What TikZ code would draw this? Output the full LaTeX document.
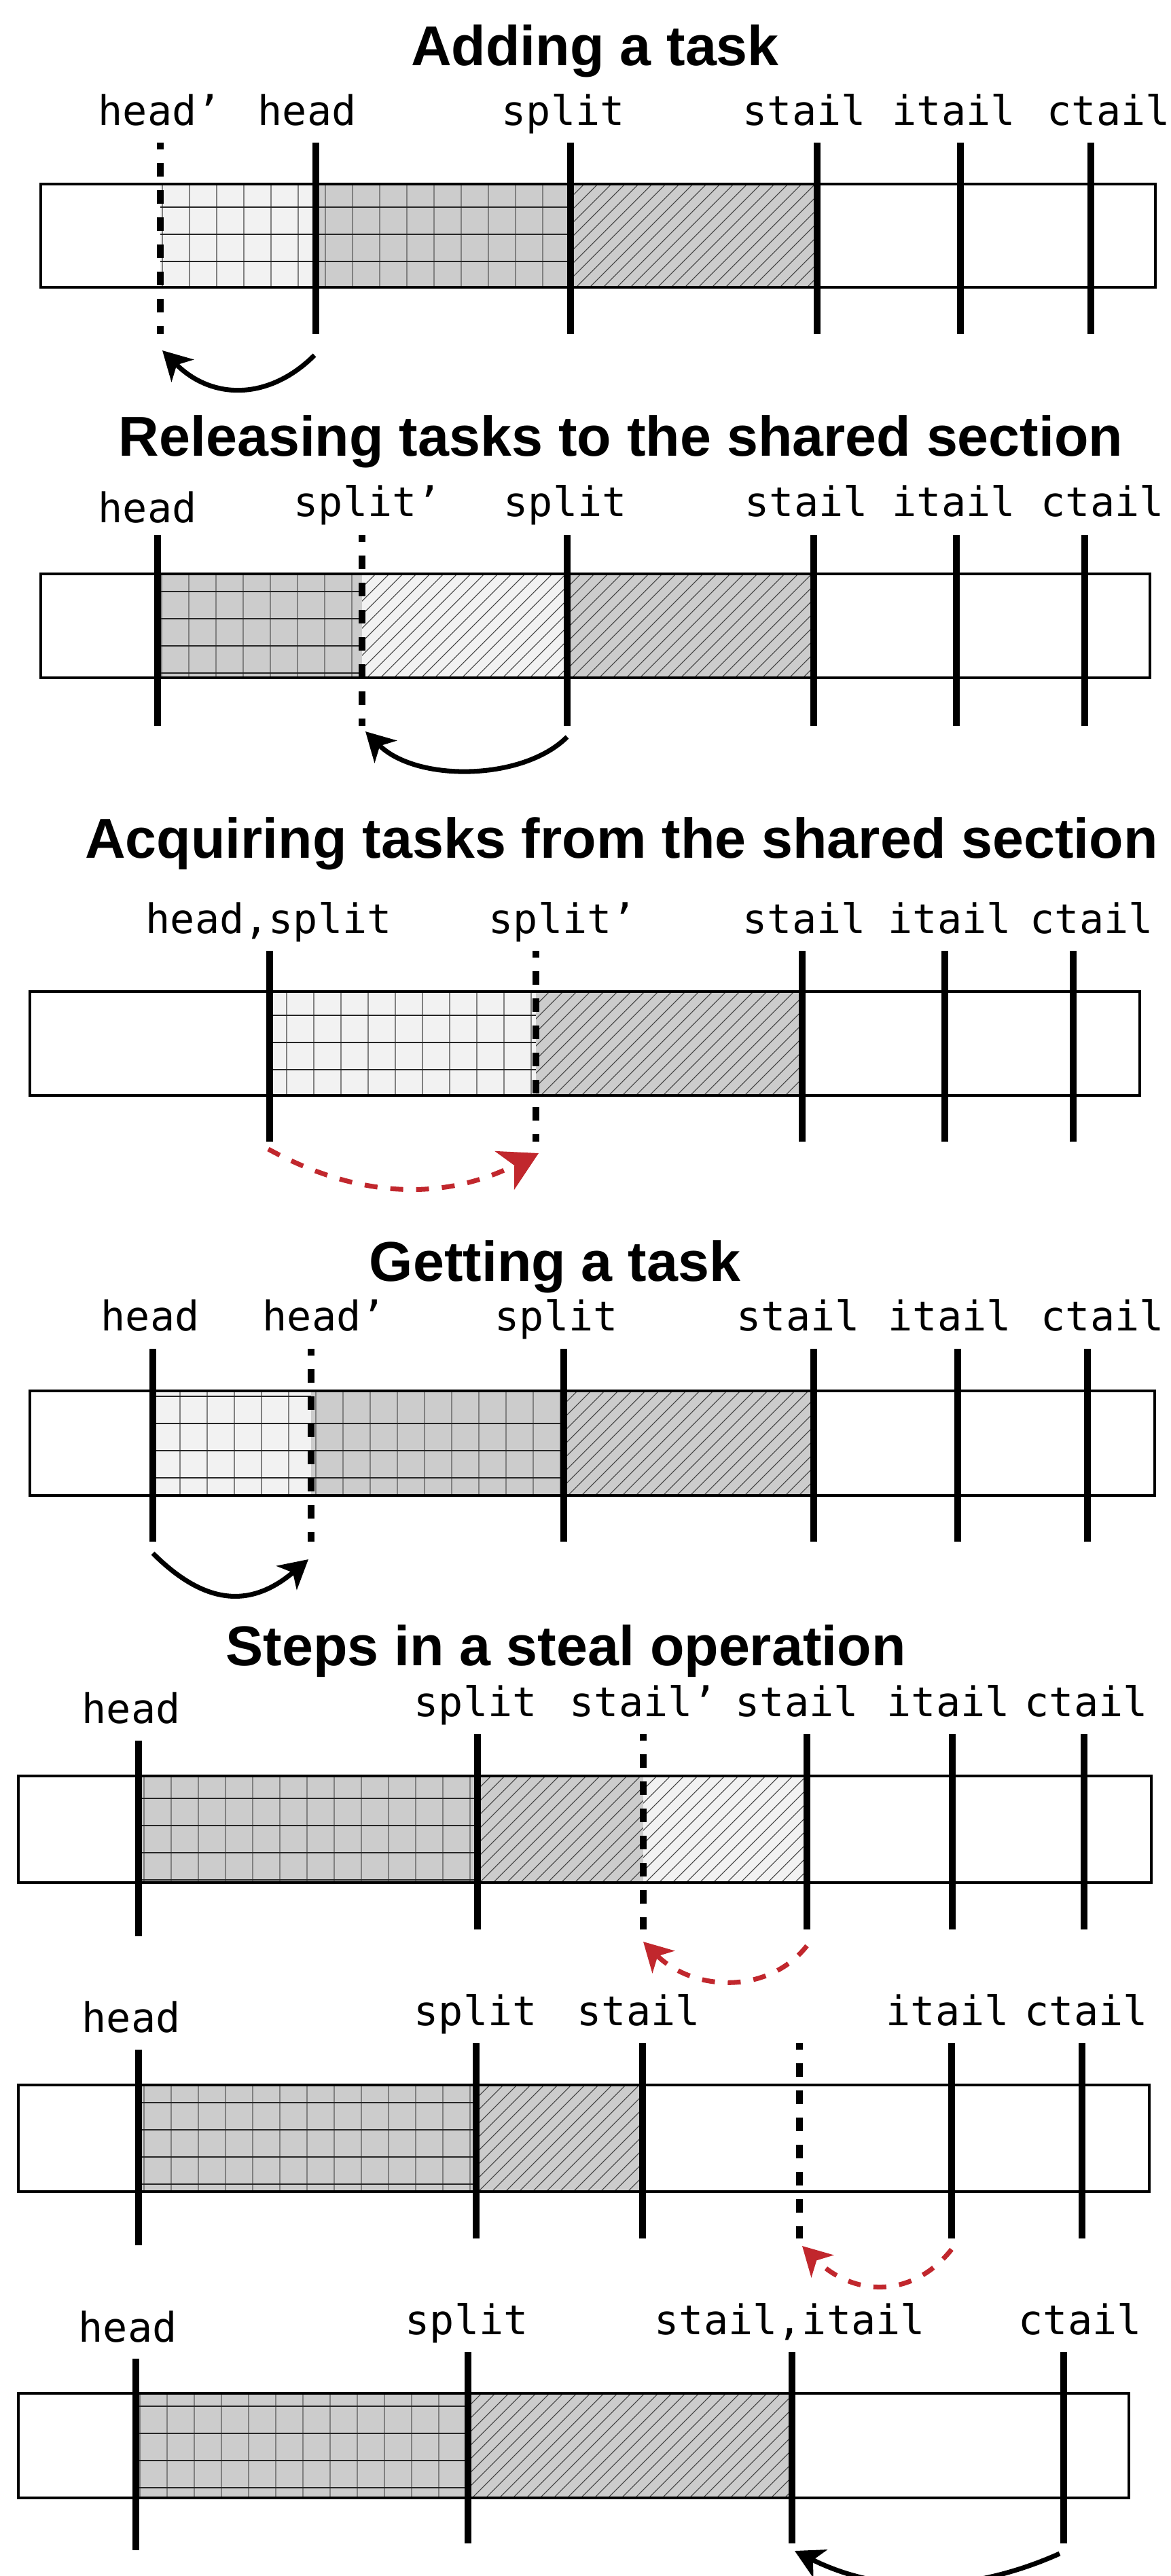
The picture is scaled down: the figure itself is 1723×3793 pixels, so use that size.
\documentclass[tikz,border=0pt]{standalone}
\usepackage{fontspec}
\setmainfont{Liberation Sans}
\newfontfamily\labelfont{DejaVu Sans Mono}
\usetikzlibrary{arrows.meta}

\definecolor{lightfill}{HTML}{F2F2F2}
\definecolor{darkfill}{HTML}{CCCCCC}
\definecolor{arrowred}{HTML}{C1272D}

\tikzset{
  title/.style={font=\fontsize{23.5}{28}\selectfont\bfseries, inner sep=0pt, anchor=base},
  lbl/.style={font=\labelfont\fontsize{17.1}{20}\selectfont, inner sep=0pt, anchor=base west},
  posline/.style={line width=2.8pt},
  newpos/.style={line width=2.8pt, dash pattern=on 0.2cm off 0.2cm, dash phase=0.1cm},
  boxline/.style={line width=0.9pt},
  gridv/.style={line width=0.4pt, draw=black!50},
  gridh/.style={line width=0.4pt, draw=black!85},
  hatchline/.style={line width=0.3pt, draw=black!75},
  shiftarrow/.style={line width=2pt, -{Stealth[length=0.42cm, width=0.46cm, inset=0.12cm]}},
  redarrow/.style={shiftarrow, draw=arrowred, dash pattern=on 0.19cm off 0.19cm},
}

% shaded block with a square cell grid: x1, x2, ytop, ybot, fill, first x line, first y line
\newcommand{\gridpatch}[7]{%
  \fill[#5] (#1,#3) rectangle (#2,#4);
  \begin{scope}
    \clip (#1,#3) rectangle (#2,#4);
    \pgfmathsetmacro{\gxnext}{#6+40}
    \foreach \gx in {#6,\gxnext,...,#2} {\draw[gridv] (\gx,#3) -- (\gx,#4);}
    \pgfmathsetmacro{\gynext}{#7+40}
    \foreach \gy in {#7,\gynext,...,#4} {\draw[gridh] (#1,\gy) -- (#2,\gy);}
  \end{scope}}

% shaded block with diagonal hatching: x1, x2, ytop, ybot, fill
\newcommand{\hatchpatch}[5]{%
  \fill[#5] (#1,#3) rectangle (#2,#4);
  \begin{scope}
    \clip (#1,#3) rectangle (#2,#4);
    \pgfmathsetmacro{\hatchh}{#4-#3}
    \pgfmathsetmacro{\hatcha}{#1-\hatchh}
    \pgfmathsetmacro{\hatchb}{\hatcha+20}
    \foreach \hx in {\hatcha,\hatchb,...,#2} {\draw[hatchline] (\hx,#4) -- ++(\hatchh,-\hatchh);}
  \end{scope}}

\begin{document}
\begin{tikzpicture}[x=0.01cm, y=-0.01cm]
\useasboundingbox (0,0) rectangle (1723,3793);
\fill[white] (0,0) rectangle (1723,3793);

% ---------------- Adding a task ----------------
\node[title] (t1) at (876,96) {Adding a task};
\gridpatch{236}{465}{271}{423}{lightfill}{239}{265}
\gridpatch{465}{840}{271}{423}{darkfill}{239}{265}
\hatchpatch{840}{1203}{271}{423}{darkfill}
\draw[boxline] (60,271) rectangle (1701,423);
\draw[newpos] (236,210) -- (236,492);
\foreach \px in {465,840,1203,1414,1606} {\draw[posline] (\px,210) -- (\px,492);}
\node[lbl] (l1a) at (144,184) {head’};
\node[lbl] (l1b) at (379,184) {head};
\node[lbl] (l1c) at (738,184) {split};
\node[lbl] (l1d) at (1093,184) {stail};
\node[lbl] (l1e) at (1313,184) {itail};
\node[lbl] (l1f) at (1541,184) {ctail};
\coordinate (a1s) at (463,523);
\coordinate (a1e) at (239,516);
\draw[shiftarrow] (a1s) .. controls (398,588) and (314,591) .. (a1e);

% ---------------- Releasing tasks ----------------
\node[title] (t2) at (914,671) {Releasing tasks to the shared section};
\gridpatch{232}{533}{845}{998}{darkfill}{238}{831}
\hatchpatch{533}{835}{845}{998}{lightfill}
\hatchpatch{835}{1198}{845}{998}{darkfill}
\draw[boxline] (60,845) rectangle (1693,998);
\draw[newpos] (533,788) -- (533,1069);
\foreach \px in {232,835,1198,1408,1597} {\draw[posline] (\px,788) -- (\px,1069);}
\node[lbl] (l2a) at (144,769) {head};
\node[lbl] (l2b) at (432,760) {split’};
\node[lbl] (l2c) at (741,760) {split};
\node[lbl] (l2d) at (1096,760) {stail};
\node[lbl] (l2e) at (1313,760) {itail};
\node[lbl] (l2f) at (1532,760) {ctail};
\coordinate (a2s) at (835,1085);
\coordinate (a2e) at (538,1077);
\draw[shiftarrow] (a2s) .. controls (770,1150) and (613,1152) .. (a2e);

% ---------------- Acquiring tasks ----------------
\node[title] (t3) at (915,1263) {Acquiring tasks from the shared section};
\gridpatch{397}{789}{1460}{1613}{lightfill}{382}{1455}
\hatchpatch{789}{1181}{1460}{1613}{darkfill}
\draw[boxline] (44,1460) rectangle (1678,1613);
\draw[newpos] (789,1400) -- (789,1681);
\foreach \px in {397,1181,1391,1580} {\draw[posline] (\px,1400) -- (\px,1681);}
\node[lbl] (l3a) at (214,1374) {head,split};
\node[lbl] (l3b) at (719,1374) {split’};
\node[lbl] (l3c) at (1093,1374) {stail};
\node[lbl] (l3d) at (1307,1374) {itail};
\node[lbl] (l3e) at (1516,1374) {ctail};
\coordinate (a3s) at (395,1692);
\coordinate (a3e) at (793,1698);
\draw[redarrow, -{Stealth[length=0.56cm, width=0.63cm, inset=0.16cm]}]
  (a3s) .. controls (532,1767) and (656,1767) .. (a3e);

% ---------------- Getting a task ----------------
\node[title] (t4) at (817,1886) {Getting a task};
\gridpatch{225}{458}{2048}{2202}{lightfill}{225}{2056}
\gridpatch{458}{830}{2048}{2202}{darkfill}{225}{2096}
\hatchpatch{830}{1198}{2048}{2202}{darkfill}
\draw[boxline] (44,2048) rectangle (1700,2202);
\draw[newpos] (458,1986) -- (458,2270);
\foreach \px in {225,830,1198,1410,1601} {\draw[posline] (\px,1986) -- (\px,2270);}
\node[lbl] (l4a) at (148,1959) {head};
\node[lbl] (l4b) at (386,1959) {head’};
\node[lbl] (l4c) at (728,1959) {split};
\node[lbl] (l4d) at (1084,1959) {stail};
\node[lbl] (l4e) at (1307,1959) {itail};
\node[lbl] (l4f) at (1532,1959) {ctail};
\coordinate (a4s) at (225,2287);
\coordinate (a4e) at (454,2296);
\draw[shiftarrow] (a4s) .. controls (306,2368) and (373,2365) .. (a4e);

% ---------------- Steps in a steal operation ----------------
\node[title] (t5) at (833,2452) {Steps in a steal operation};

% step 1: stail moves back
\gridpatch{204}{703}{2615}{2772}{darkfill}{212}{2648}
\hatchpatch{703}{947}{2615}{2772}{darkfill}
\hatchpatch{947}{1188}{2615}{2772}{lightfill}
\draw[boxline] (27,2615) rectangle (1695,2772);
\draw[posline] (204,2563) -- (204,2851);
\draw[newpos] (947,2553) -- (947,2841);
\foreach \px in {703,1188,1402,1596} {\draw[posline] (\px,2553) -- (\px,2841);}
\node[lbl] (l5a) at (120,2537) {head};
\node[lbl] (l5b) at (609,2527) {split};
\node[lbl] (l5c) at (838,2527) {stail’};
\node[lbl] (l5d) at (1082,2527) {stail};
\node[lbl] (l5e) at (1305,2527) {itail};
\node[lbl] (l5f) at (1508,2527) {ctail};
\coordinate (a5s) at (1188,2865);
\coordinate (a5e) at (947,2859);
\draw[redarrow] (a5s) .. controls (1130,2938) and (1020,2932) .. (a5e);

% step 2: itail moves back
\gridpatch{204}{701}{3070}{3227}{darkfill}{212}{3096}
\hatchpatch{701}{946}{3070}{3227}{darkfill}
\draw[boxline] (27,3070) rectangle (1692,3227);
\draw[posline] (204,3018) -- (204,3306);
\draw[newpos] (1177,3008) -- (1177,3296);
\foreach \px in {701,946,1401,1593} {\draw[posline] (\px,3008) -- (\px,3296);}
\node[lbl] (l6a) at (120,2992) {head};
\node[lbl] (l6b) at (609,2982) {split};
\node[lbl] (l6c) at (849,2982) {stail};
\node[lbl] (l6d) at (1304,2982) {itail};
\node[lbl] (l6e) at (1508,2982) {ctail};
\coordinate (a6s) at (1401,3312);
\coordinate (a6e) at (1181,3307);
\draw[redarrow] (a6s) .. controls (1342,3386) and (1255,3381) .. (a6e);

% step 3: ctail follows
\gridpatch{200}{689}{3524}{3678}{darkfill}{206}{3543}
\hatchpatch{689}{1166}{3524}{3678}{darkfill}
\draw[boxline] (27,3524) rectangle (1662,3678);
\draw[posline] (200,3473) -- (200,3755);
\foreach \px in {689,1166,1566} {\draw[posline] (\px,3463) -- (\px,3745);}
\node[lbl] (l7a) at (115,3448) {head};
\node[lbl] (l7b) at (596,3437) {split};
\node[lbl] (l7c) at (963,3437) {stail,itail};
\node[lbl] (l7d) at (1499,3437) {ctail};
\coordinate (a7s) at (1560,3760);
\coordinate (a7e) at (1170,3756);
\draw[shiftarrow] (a7s) .. controls (1430,3818) and (1300,3821) .. (a7e);
\end{tikzpicture}
\end{document}
